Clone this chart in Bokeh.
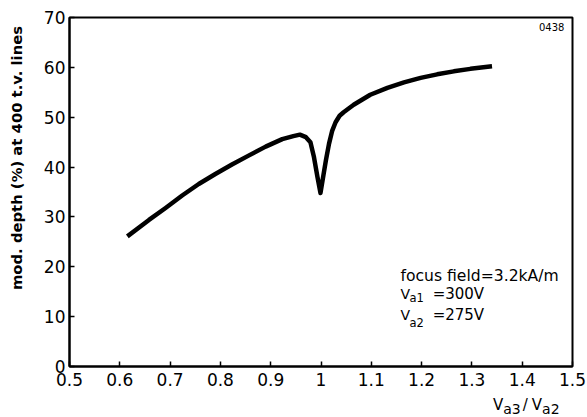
from bokeh.plotting import figure
from bokeh.models import Range1d, FixedTicker, Label, Div
from bokeh.layouts import row, column
from bokeh.embed import file_html
from bokeh.resources import INLINE

# data
ratio = [0.615, 0.658, 0.691, 0.724, 0.757, 0.790, 0.823, 0.856, 0.890, 0.923, 0.945,
         0.958, 0.970, 0.979, 0.986, 0.993, 0.999, 1.005, 1.010, 1.016, 1.022, 1.029, 1.037,
         1.045, 1.065, 1.098, 1.132, 1.165, 1.198, 1.231, 1.264, 1.297, 1.340]
depth = [26.1, 29.4, 31.8, 34.3, 36.6, 38.6, 40.5, 42.3, 44.1, 45.6, 46.2,
         46.5, 46.0, 45.0, 42.0, 38.0, 34.8, 38.5, 41.5, 44.7, 47.2, 49.0, 50.3,
         51.0, 52.5, 54.5, 55.9, 57.0, 57.9, 58.6, 59.2, 59.7, 60.2]

x_ticks = [0.5, 0.6, 0.7, 0.8, 0.9, 1.0, 1.1, 1.2, 1.3, 1.4, 1.5]
x_tick_labels = ["0.5", "0.6", "0.7", "0.8", "0.9", "1", "1.1", "1.2", "1.3", "1.4", "1.5"]
y_ticks = [0, 10, 20, 30, 40, 50, 60, 70]

y_title = "mod. depth (%) at 400 t.v. lines"
x_title_parts = ["V", "a3", "/", "V", "a2"]
note_lines = ["focus field=3.2kA/m", "=300V", "=275V"]
fig_code = "0438"

FONT = "DejaVu Sans"

p = figure(width=557, height=395, output_backend="svg", toolbar_location=None,
           x_range=Range1d(0.5, 1.5), y_range=Range1d(0, 70), margin=0,
           min_border_left=39, min_border_right=15, min_border_top=17, min_border_bottom=29)
p.grid.visible = False
p.outline_line_color = "black"
p.outline_line_width = 2
p.background_fill_color = "white"
p.border_fill_color = "white"

p.line(ratio, depth, line_color="black", line_width=4.5, line_cap="butt", line_join="round")

for ax in (p.xaxis[0], p.yaxis[0]):
    ax.axis_line_width = 2
    ax.axis_line_color = "black"
    ax.major_tick_in = 5
    ax.major_tick_out = 0
    ax.major_tick_line_width = 1.5
    ax.minor_tick_line_color = None
    ax.major_label_text_font = FONT
    ax.major_label_text_font_size = "17px"
    ax.major_label_text_color = "black"

p.xaxis[0].ticker = FixedTicker(ticks=x_ticks)
p.xaxis[0].major_label_overrides = {t: s for t, s in zip(x_ticks, x_tick_labels)}
p.xaxis[0].major_label_standoff = 6
p.yaxis[0].ticker = FixedTicker(ticks=y_ticks)
p.yaxis[0].major_label_standoff = 4


def lab(x, y, text, size, align="left", baseline="alphabetic"):
    p.add_layout(Label(x=x, y=y, text=text, text_font=FONT, text_font_size=size,
                       text_align=align, text_baseline=baseline, text_color="black"))


# figure code
lab(1.484, 68.1, fig_code, "10px", align="right")

# annotation block
lab(1.158, 18.25, note_lines[0], "15.6px")
lab(1.158, 14.64, "V", "14px")
lab(1.176, 13.64, "a1", "11.5px")
lab(1.222, 14.64, note_lines[1], "15px")
lab(1.158, 10.23, "V", "14px")
lab(1.176, 8.82, "a2", "11.5px")
lab(1.222, 10.23, note_lines[2], "15px")

# y axis title (rotated HTML text to the left of the plot)
y_html = (
    '<div style="position:relative;width:30px;height:395px;">'
    '<div style="position:absolute;left:17px;top:158px;'
    'transform:translate(-50%,-50%) rotate(-90deg);white-space:nowrap;'
    "font-family:'DejaVu Sans';font-weight:bold;font-size:14.8px;color:black;\">"
    + y_title + "</div></div>"
)
ydiv = Div(text=y_html, width=30, height=395, margin=0, styles={"overflow": "visible"})

# x axis title with subscripts, under the right end of the x axis
sub = '<span style="font-size:14px;position:relative;top:4px;">{}</span>'
x_html = (
    '<div style="position:relative;width:587px;height:22px;">'
    '<div style="position:absolute;left:493px;top:2px;white-space:nowrap;'
    "font-family:'DejaVu Sans';font-size:15px;line-height:16px;color:black;\">"
    + x_title_parts[0] + sub.format(x_title_parts[1])
    + '<span style="margin:0 4px 0 2px;">' + x_title_parts[2] + "</span>"
    + x_title_parts[3] + sub.format(x_title_parts[4])
    + "</div></div>"
)
xdiv = Div(text=x_html, width=587, height=22, margin=0, styles={"overflow": "visible"})

layout = column(row(ydiv, p, spacing=0, margin=0), xdiv, spacing=0, margin=0)

open("out.html", "w").write(file_html(layout, INLINE))
